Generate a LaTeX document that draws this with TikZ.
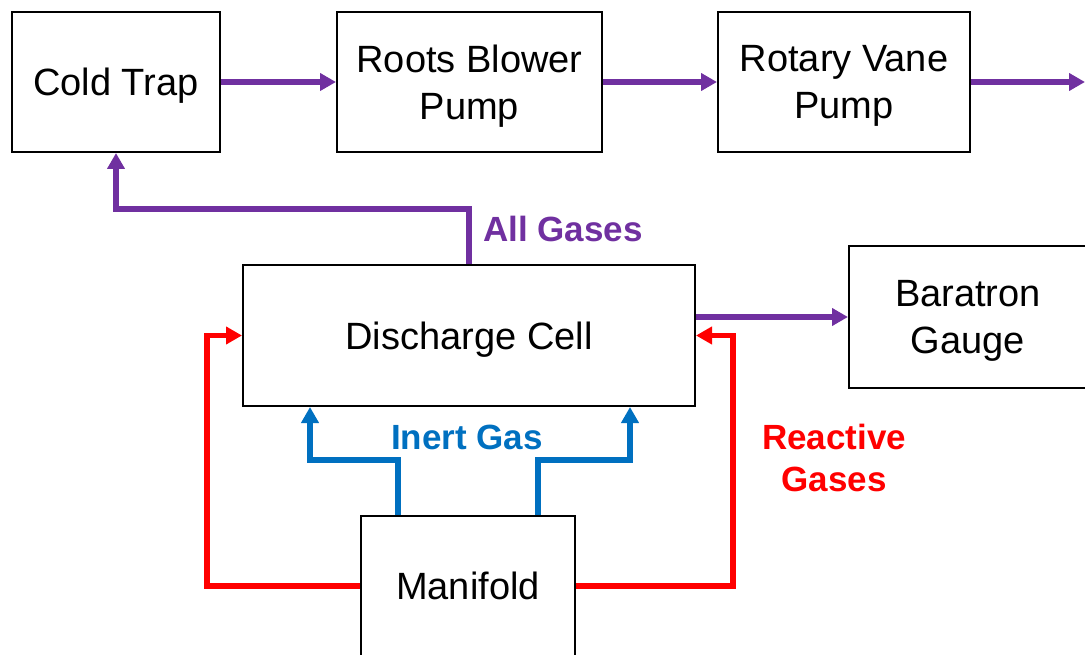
\documentclass[tikz,border=0pt]{standalone}
\usepackage{fontspec}
\setmainfont{Liberation Sans}
\usetikzlibrary{arrows.meta}
\definecolor{cpurple}{HTML}{7030A0}
\definecolor{cblue}{HTML}{0070C0}
\definecolor{cred}{HTML}{FF0000}
\tikzset{
  box/.style={draw=black, line width=2pt, fill=white, align=center, inner sep=0pt,
    text depth=0pt, font=\fontsize{38}{47.5}\selectfont},
  flow/.style={line width=5.5pt, -{Triangle[length=16pt,width=17pt]}},
  pflow/.style={flow, draw=cpurple},
  bflow/.style={flow, draw=cblue},
  rflow/.style={flow, draw=cred},
  lbl/.style={font=\fontsize{35}{42}\selectfont\bfseries, align=center, inner sep=0pt}
}
\begin{document}
\begin{tikzpicture}[x=1pt,y=-1pt]
\useasboundingbox (0,0) rectangle (1085,655);
\node[box, minimum width=208pt, minimum height=140pt] (coldtrap) at (116,82) {Cold Trap};
\node[box, minimum width=265pt, minimum height=140pt] (roots) at (469.5,82) {Roots Blower\\Pump};
\node[box, minimum width=252pt, minimum height=140pt] (rotary) at (844,82) {Rotary Vane\\Pump};
\node[box, minimum width=452pt, minimum height=141pt] (discharge) at (469,335.5) {Discharge Cell};
\node[box, minimum width=238pt, minimum height=142pt] (baratron) at (968,317) {Baratron\\Gauge};
\node[box, minimum width=214pt, minimum height=140pt] (manifold) at (468,586) {Manifold};
\coordinate (exit) at (1085,82);

\draw[pflow] (coldtrap.east) -- (roots.west);
\draw[pflow] (roots.east) -- (rotary.west);
\draw[pflow] (rotary.east) -- (exit);
\draw[pflow] (discharge.north) -- ++(0,-55) -| (coldtrap.south);
\draw[pflow] (baratron.west -| discharge.east) -- (baratron.west);

\draw[rflow] (manifold.west) -- ++(-153,0) |- (discharge.west);
\draw[rflow] (manifold.east) -- ++(157,0) |- (discharge.east);

\draw[bflow] ([xshift=38pt]manifold.north west) -- ++(0,-55) -| ([xshift=68pt]discharge.south west);
\draw[bflow] ([xshift=-38pt]manifold.north east) -- ++(0,-55) -| ([xshift=-66pt]discharge.south east);

\node[lbl, text=cpurple, anchor=west] (lall) at (483,229) {All Gases};
\node[lbl, text=cblue] (linert) at (467,437) {Inert Gas};
\node[lbl, text=cred] (lreact) at (834,457.5) {Reactive\\Gases};
\end{tikzpicture}
\end{document}
